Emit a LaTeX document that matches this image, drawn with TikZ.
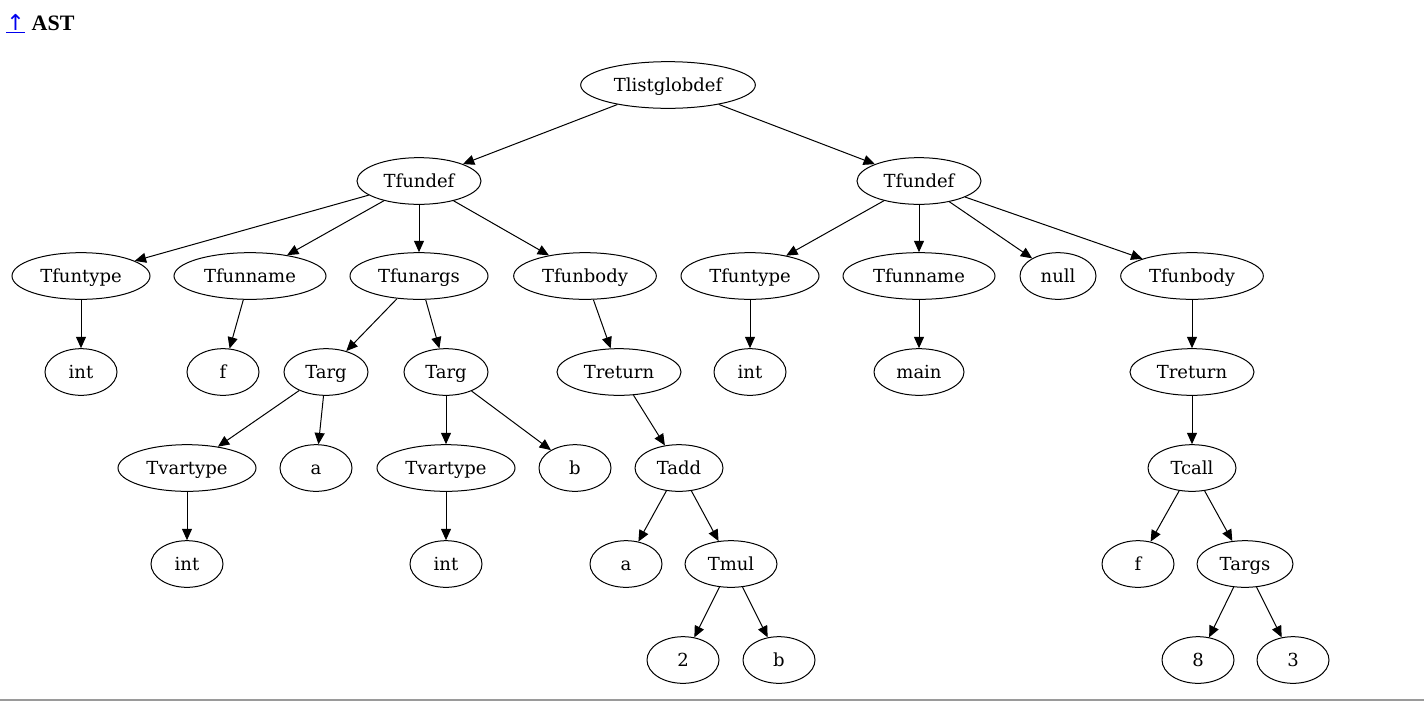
\documentclass[tikz,border=0pt]{standalone}
\usepackage{fontspec}
\setmainfont{DejaVu Serif}
\newfontfamily\hdrfont{Liberation Serif}
\newfontfamily\arrfont{DejaVu Sans}
\usetikzlibrary{arrows.meta, shapes.geometric}

\definecolor{linkblue}{RGB}{0,0,238}
\definecolor{rulegray}{RGB}{154,154,154}

\begin{document}
\begin{tikzpicture}[
    x=0.75pt, y=-0.75pt,
    nd/.style={draw, ellipse, line width=0.75pt, inner sep=0pt, minimum height=35pt, minimum width=#1,
               text height=11pt, text depth=2pt, font=\fontsize{13.5}{15}\selectfont},
    nd/.default=54pt,
    edge/.style={-{Triangle[length=8.5pt, width=7.5pt]}, line width=0.75pt}
]
    \useasboundingbox (0,0) rectangle (1424,701);

    % header line
    \node[anchor=west, inner sep=0pt, font=\fontsize{16.5}{18}\selectfont] (hdr) at (6,24)
        {\textcolor{linkblue}{\underline{\arrfont ↑}} \hdrfont\bfseries AST};
    \draw[rulegray, line width=1pt] (0,700) -- (1424,700);

    % root
    \node[nd=131pt] (root) at (668,85) {Tlistglobdef};

    % first function
    \node[nd=93pt]    (fd1)   at (419,181) {Tfundef};
    \node[nd=103.5pt] (ft1)   at (81,276)  {Tfuntype};
    \node[nd=114pt]   (fn1)   at (250,276) {Tfunname};
    \node[nd=103.5pt] (fa1)   at (419,276) {Tfunargs};
    \node[nd=107pt]   (fb1)   at (585,276) {Tfunbody};
    \node[nd]         (int1)  at (81,372)  {int};
    \node[nd]         (f1)    at (223,372) {f};
    \node[nd=63pt]    (arg1)  at (326,372) {Targ};
    \node[nd=63pt]    (arg2)  at (446,372) {Targ};
    \node[nd=93pt]    (ret1)  at (619,372) {Treturn};
    \node[nd=103.5pt] (vt1)   at (187,468) {Tvartype};
    \node[nd]         (a1)    at (316,468) {a};
    \node[nd=103.5pt] (vt2)   at (446,468) {Tvartype};
    \node[nd]         (b1)    at (575,468) {b};
    \node[nd=66pt]    (add)   at (679,468) {Tadd};
    \node[nd]         (int2)  at (187,564) {int};
    \node[nd]         (int3)  at (446,564) {int};
    \node[nd]         (a2)    at (626,564) {a};
    \node[nd=69pt]    (mul)   at (731,564) {Tmul};
    \node[nd]         (two)   at (683,660) {2};
    \node[nd]         (b2)    at (779,660) {b};

    % second function
    \node[nd=93pt]    (fd2)   at (919,181)  {Tfundef};
    \node[nd=103.5pt] (ft2)   at (750,276)  {Tfuntype};
    \node[nd=114pt]   (fn2)   at (919,276)  {Tfunname};
    \node[nd=57pt]    (nul)   at (1058,276) {null};
    \node[nd=107pt]   (fb2)   at (1192,276) {Tfunbody};
    \node[nd]         (int4)  at (750,372)  {int};
    \node[nd=67.5pt]  (mainn) at (919,372)  {main};
    \node[nd=93pt]    (ret2)  at (1192,372) {Treturn};
    \node[nd=66pt]    (call)  at (1192,468) {Tcall};
    \node[nd]         (f2)    at (1138,564) {f};
    \node[nd=72pt]    (args)  at (1245,564) {Targs};
    \node[nd]         (eight) at (1198,660) {8};
    \node[nd]         (three) at (1293,660) {3};

    % edges
    \foreach \p/\c in {root/fd1, root/fd2,
                       fd1/ft1, fd1/fn1, fd1/fa1, fd1/fb1,
                       ft1/int1, fn1/f1, fa1/arg1, fa1/arg2, fb1/ret1,
                       arg1/vt1, arg1/a1, arg2/vt2, arg2/b1, ret1/add,
                       vt1/int2, vt2/int3, add/a2, add/mul, mul/two, mul/b2,
                       fd2/ft2, fd2/fn2, fd2/nul, fd2/fb2,
                       ft2/int4, fn2/mainn, fb2/ret2, ret2/call,
                       call/f2, call/args, args/eight, args/three}
        \draw[edge] (\p) -- (\c);

\end{tikzpicture}
\end{document}
